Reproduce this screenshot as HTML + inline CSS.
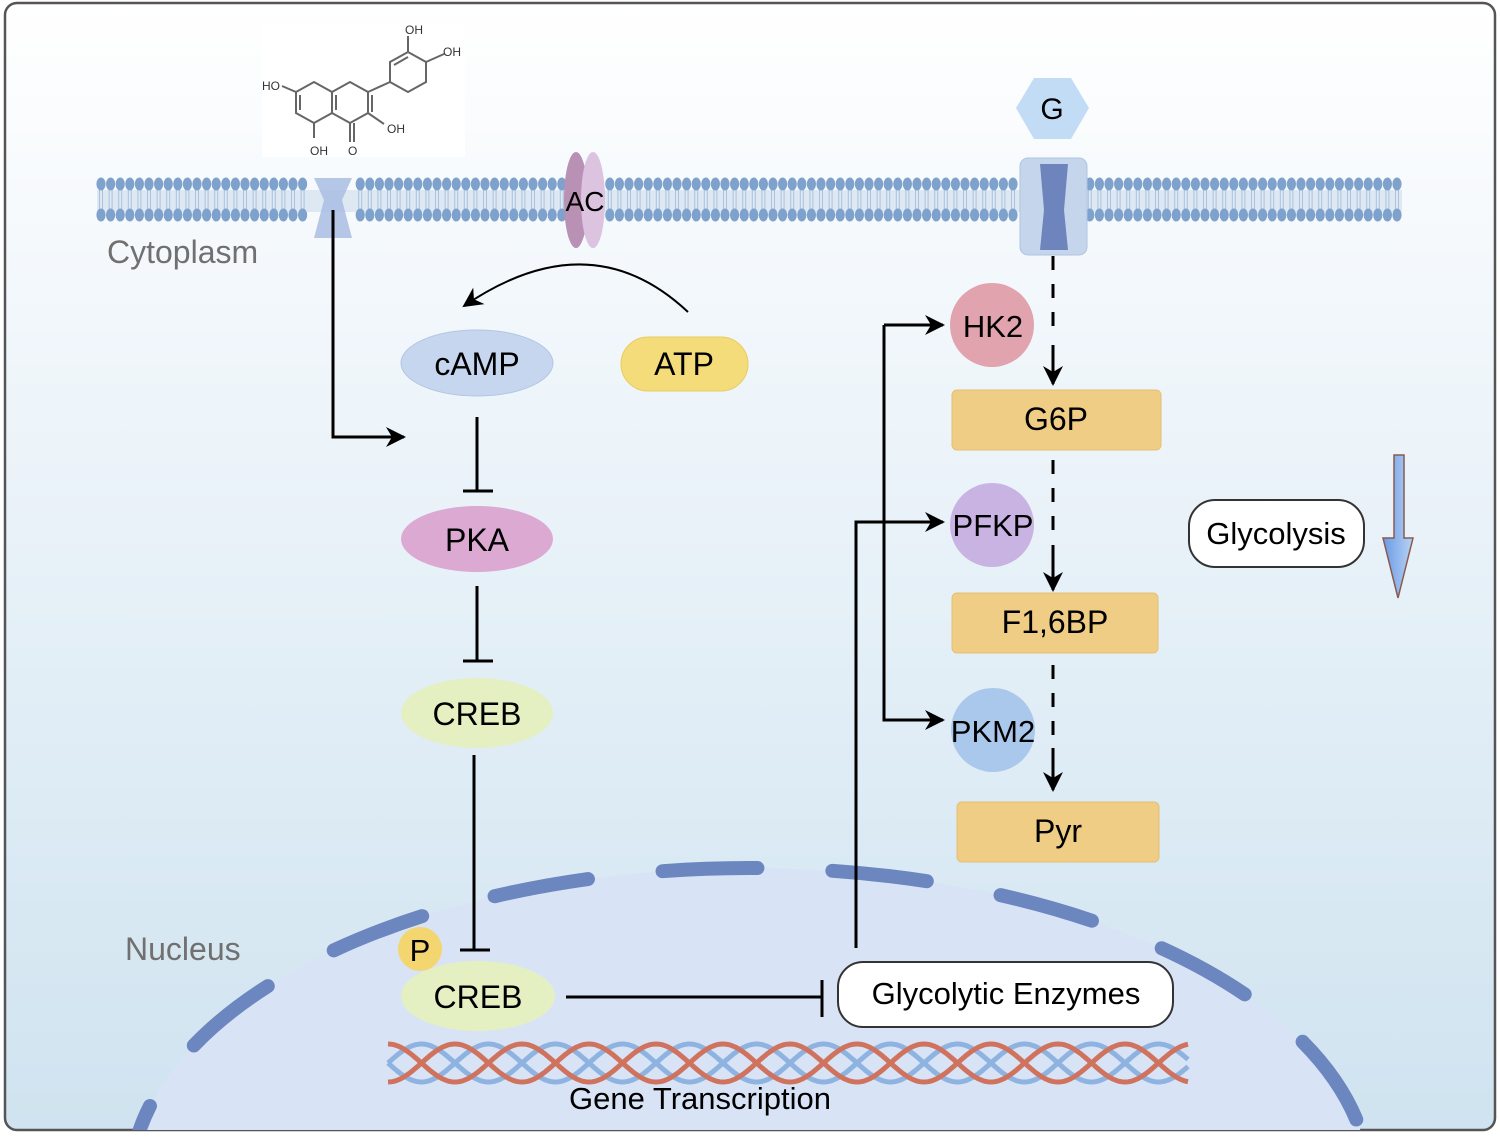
<!DOCTYPE html>
<html><head><meta charset="utf-8"><style>
html,body{margin:0;padding:0;background:#fff;width:1500px;height:1138px;overflow:hidden;}
svg{display:block;font-family:"Liberation Sans",Arial,sans-serif;}
</style></head><body>
<svg id="s" width="1500" height="1138" viewBox="0 0 1500 1138" xmlns="http://www.w3.org/2000/svg">
<defs>
<linearGradient id="bg" x1="0" y1="0" x2="0" y2="1">
<stop offset="0" stop-color="#ffffff"/><stop offset="0.35" stop-color="#eef5fa"/><stop offset="1" stop-color="#cfe3f0"/>
</linearGradient>
<marker id="ah2" markerWidth="24" markerHeight="24" refX="20" refY="12" orient="auto" markerUnits="userSpaceOnUse">
<path d="M2,2 L22,12 L2,22 L8,12 z" fill="#000"/></marker>
<clipPath id="frame"><rect x="5" y="3" width="1490" height="1127" rx="12"/></clipPath>
<linearGradient id="barr" x1="0" x2="1"><stop offset="0" stop-color="#6a9ae6"/><stop offset="1" stop-color="#b9d3f4"/></linearGradient>
</defs>
<rect x="5" y="3" width="1490" height="1127" rx="12" fill="url(#bg)" stroke="#555" stroke-width="2.5"/>
<g clip-path="url(#frame)">
<ellipse cx="750" cy="1186" rx="620" ry="318" fill="#d8e4f6"/>
<ellipse cx="750" cy="1186" rx="620" ry="318" fill="none" stroke="#6c86bf" stroke-width="14" stroke-linecap="round" stroke-dasharray="95 75" stroke-dashoffset="30"/>
</g>
<g id="mem"></g>
<rect x="262" y="25" width="203" height="132" fill="#fff"/>
<g stroke="#666" stroke-width="2" fill="none">
<path d="M296,92 L314,82 L332,92 L332,113 L314,123 L296,113 Z"/>
<path d="M332,92 L350,82 L368,92 L368,113 L350,123 L332,113"/>
<path d="M300,95 L300,110 M336,95 L336,110 M372,95 L372,112"/>
<path d="M368,92 L390,82"/>
<path d="M390,82 L390,62 L408,52 L426,62 L426,82 L408,92 Z M394,65 L408,57"/>
<path d="M408,52 L408,36 M426,62 L444,54 M368,113 L384,124 M350,123 L350,142 M354,123 L354,142 M314,123 L314,138 M296,92 L282,86"/>
</g>
<g font-size="12" fill="#333"><text x="262" y="90">HO</text><text x="405" y="34">OH</text><text x="443" y="56">OH</text><text x="387" y="133">OH</text><text x="310" y="155">OH</text><text x="348" y="155">O</text></g>

<path d="M314,178 L352,178 L342,200 L352,238 L314,238 L324,200 Z" fill="#a9bde3" opacity="0.85"/>
<ellipse cx="576" cy="200" rx="12" ry="48" fill="#b891b5"/>
<ellipse cx="593" cy="200" rx="12" ry="48" fill="#dcc3e0"/>
<text x="585" y="211" font-size="28" text-anchor="middle">AC</text>
<rect x="1020" y="158" width="67" height="97" rx="8" fill="#c4d5ec" stroke="#b0c4e0"/>
<path d="M1040,164 L1068,164 L1064,210 L1068,250 L1040,250 L1044,210 Z" fill="#6e84bd"/>
<polygon points="1016,108 1034,78 1071,78 1089,108 1071,139 1034,139" fill="#c3dcf5"/>
<text x="1052" y="119" font-size="30" text-anchor="middle">G</text>

<text x="107" y="263" font-size="32" fill="#707070">Cytoplasm</text>
<text x="125" y="960" font-size="32" fill="#707070">Nucleus</text>

<g stroke="#000" stroke-width="3" fill="none">
<path d="M333,210 L333,437 L404,437" marker-end="url(#ah2)"/>
<path d="M688,312 Q590,220 464,306" stroke-width="2" marker-end="url(#ah2)"/>
<path d="M477,417 L477,491 M463,491 L493,491"/>
<path d="M477,586 L477,661 M463,661 L493,661"/>
<path d="M474,755 L474,950 M460,950 L490,950"/>
<path d="M566,997 L822,997 M822,980 L822,1017"/>
<path d="M856,948 L856,522 L943,522" marker-end="url(#ah2)"/>
<path d="M884,325 L943,325" marker-end="url(#ah2)"/>
<path d="M884,325 L884,720 L943,720" marker-end="url(#ah2)"/>
<path d="M1053,256 L1053,340" stroke-dasharray="14 14"/>
<path d="M1053,345 L1053,384" marker-end="url(#ah2)"/>
<path d="M1053,460 L1053,540" stroke-dasharray="14 14"/>
<path d="M1053,545 L1053,590" marker-end="url(#ah2)"/>
<path d="M1053,665 L1053,745" stroke-dasharray="14 14"/>
<path d="M1053,748 L1053,790" marker-end="url(#ah2)"/>
</g>
<ellipse cx="477" cy="363" rx="76" ry="33" fill="#c6d6ee" stroke="#b3c6e2"/>
<text x="477" y="375" font-size="32" text-anchor="middle">cAMP</text>
<rect x="621" y="337" width="127" height="54" rx="27" fill="#f5dc7a" stroke="#e8cc62"/>
<text x="684" y="375" font-size="32" text-anchor="middle">ATP</text>
<ellipse cx="477" cy="539" rx="76" ry="33" fill="#dba9d1"/>
<text x="477" y="551" font-size="32" text-anchor="middle">PKA</text>
<ellipse cx="477" cy="713" rx="76" ry="35" fill="#e4efc2"/>
<text x="477" y="725" font-size="32" text-anchor="middle">CREB</text>
<ellipse cx="478" cy="996" rx="77" ry="35" fill="#e4efc2"/>
<text x="478" y="1008" font-size="32" text-anchor="middle">CREB</text>
<circle cx="420" cy="949" r="22" fill="#f4d670"/>
<text x="420" y="961" font-size="31" text-anchor="middle">P</text>

<circle cx="992" cy="325" r="42" fill="#e1a3ae"/>
<text x="993" y="337" font-size="31" text-anchor="middle">HK2</text>
<circle cx="992" cy="525" r="42" fill="#c9b3e3"/>
<text x="993" y="536" font-size="31" text-anchor="middle">PFKP</text>
<circle cx="993" cy="730" r="42" fill="#aac8ec"/>
<text x="993" y="742" font-size="31" text-anchor="middle">PKM2</text>

<rect x="952" y="390" width="209" height="60" rx="5" fill="#f0cd85" stroke="#e4c073"/>
<text x="1056" y="430" font-size="32" text-anchor="middle">G6P</text>
<rect x="952" y="593" width="206" height="60" rx="5" fill="#f0cd85" stroke="#e4c073"/>
<text x="1055" y="633" font-size="32" text-anchor="middle">F1,6BP</text>
<rect x="957" y="802" width="202" height="60" rx="5" fill="#f0cd85" stroke="#e4c073"/>
<text x="1058" y="842" font-size="32" text-anchor="middle">Pyr</text>

<rect x="1189" y="500" width="175" height="67" rx="26" fill="#fff" stroke="#333" stroke-width="2"/>
<text x="1276" y="544" font-size="31" text-anchor="middle">Glycolysis</text>
<path d="M1394,455 L1404,455 L1404,538 L1413,538 L1398,598 L1383,538 L1394,538 Z" fill="url(#barr)" stroke="#8a5a50" stroke-width="1.5"/>

<rect x="838" y="962" width="335" height="65" rx="25" fill="#fff" stroke="#333" stroke-width="2"/>
<text x="1006" y="1004" font-size="31" text-anchor="middle">Glycolytic Enzymes</text>

<g id="dna"></g>
<text x="700" y="1109" font-size="31" text-anchor="middle">Gene Transcription</text>
</svg>
<script>
(function(){
var mem=document.getElementById("mem"),h="";
h+='<rect x="97" y="190" width="1305" height="22" fill="#dde8f3"/>';
for(var x=101;x<1400;x+=9.6){
 if((x>312&&x<354)||(x>562&&x<606)||(x>1018&&x<1089))continue;
 h+='<line x1="'+(x-1.5)+'" y1="188" x2="'+(x-1.5)+'" y2="212" stroke="#a9c2dd" stroke-width="1"/>';
 h+='<line x1="'+(x+1.5)+'" y1="188" x2="'+(x+1.5)+'" y2="212" stroke="#a9c2dd" stroke-width="1"/>';
 h+='<ellipse cx="'+x+'" cy="184" rx="4.6" ry="6.5" fill="#7ea2cb"/>';
 h+='<ellipse cx="'+x+'" cy="215" rx="4.6" ry="6.5" fill="#7ea2cb"/>';
}
mem.innerHTML=h;
var dna=document.getElementById("dna"),d="";
var P=134;
function strand(ph,col,w){
 var p="";for(var x=388;x<=1188;x+=2){var y=1063+19*Math.cos((x-388)/P*2*Math.PI+ph);p+=(x==388?"M":"L")+x+","+y.toFixed(1);}
 return '<path d="'+p+'" fill="none" stroke="'+col+'" stroke-width="'+w+'"/>';
}
d+=strand(Math.PI/2,"#8fb3e0",5)+strand(3*Math.PI/2,"#8fb3e0",5)+strand(0,"#d0735e",5)+strand(Math.PI,"#d0735e",5);
dna.innerHTML=d;
})();
</script>
</body></html>
